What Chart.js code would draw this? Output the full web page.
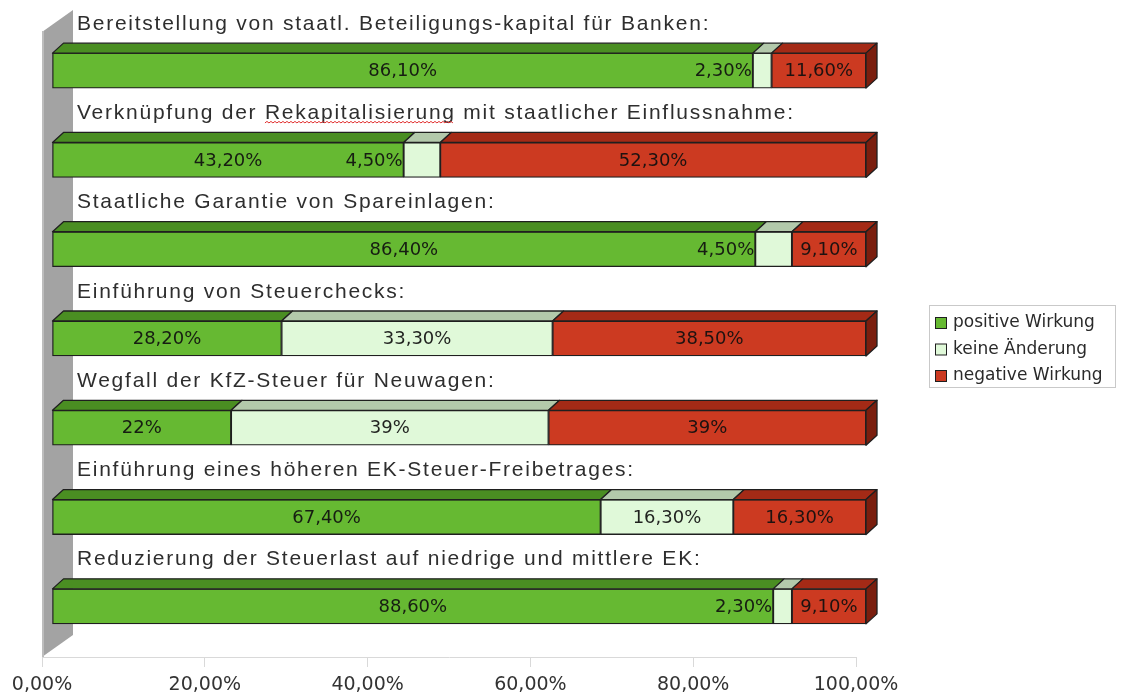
<!DOCTYPE html>
<html>
<head>
<meta charset="utf-8">
<script src="https://cdn.jsdelivr.net/npm/chart.js@4.4.1/dist/chart.umd.min.js"></script>
<style>
html,body{margin:0;padding:0;background:#fff;}
canvas{display:block;}
</style>
</head>
<body>
<canvas id="c" width="1128" height="695"></canvas>
<script>
// ---- data ----
const categories = [
  "Bereitstellung von staatl. Beteiligungs-kapital für Banken:",
  "Verknüpfung der Rekapitalisierung mit staatlicher Einflussnahme:",
  "Staatliche Garantie von Spareinlagen:",
  "Einführung von Steuerchecks:",
  "Wegfall der KfZ-Steuer für Neuwagen:",
  "Einführung eines höheren EK-Steuer-Freibetrages:",
  "Reduzierung der Steuerlast auf niedrige und mittlere EK:"
];
const seriesNames = ["positive Wirkung", "keine Änderung", "negative Wirkung"];
const positiveValues = [86.1, 43.2, 86.4, 28.2, 22, 67.4, 88.6];
const noChangeValues = [2.3, 4.5, 4.5, 33.3, 39, 16.3, 2.3];
const negativeValues = [11.6, 52.3, 9.1, 38.5, 39, 16.3, 9.1];
const labelDecimals = [2, 2, 2, 2, 0, 2, 2];
const tickValues = [0, 20, 40, 60, 80, 100];

// ---- style ----
const frontColors = ["#66b932", "#e0f9d9", "#cc3a21"];
const topColors = ["#4a8e22", "#b3c9ab", "#a42a16"];
const sideColors = ["#3d7a1a", "#9fb597", "#7a1e0e"];
const EDGE = "#1f1f1f";
const DX = 10, DY = -6;        // bar depth position
const BX = 11, BY = -10;       // bar depth extent
const WX = 31, WY = -22;       // wall depth

function fmt(v, d) {
  return v.toFixed(d).replace('.', ',') + '%';
}

const threeD = {
  id: 'threeD',
  beforeDatasetsDraw(chart) {
    const ctx = chart.ctx, a = chart.chartArea;
    // left wall
    ctx.save();
    ctx.beginPath();
    ctx.moveTo(a.left, a.top);
    ctx.lineTo(a.left + WX, a.top + WY);
    ctx.lineTo(a.left + WX, a.bottom + WY);
    ctx.lineTo(a.left, a.bottom);
    ctx.closePath();
    ctx.fillStyle = "#a3a3a3";
    ctx.fill();
    ctx.fillStyle = "#bdbdbd";
    ctx.fillRect(a.left, a.top - 1, 2, a.bottom - a.top + 1);
    ctx.restore();
    ctx.save();
    ctx.translate(DX, DY);
  },
  afterDatasetsDraw(chart) {
    const ctx = chart.ctx;
    const n = chart.data.datasets.length;
    ctx.lineWidth = 1.3;
    ctx.strokeStyle = EDGE;
    ctx.lineJoin = 'round';
    for (let d = 0; d < n; d++) {
      const meta = chart.getDatasetMeta(d);
      meta.data.forEach((el) => {
        const x0 = Math.min(el.x, el.base), x1 = Math.max(el.x, el.base);
        const top = el.y - el.height / 2, bot = el.y + el.height / 2;
        ctx.beginPath();
        ctx.moveTo(x0, top);
        ctx.lineTo(x0 + BX, top + BY);
        ctx.lineTo(x1 + BX, top + BY);
        ctx.lineTo(x1, top);
        ctx.closePath();
        ctx.fillStyle = topColors[d];
        ctx.fill();
        ctx.stroke();
        if (d === n - 1) {
          ctx.beginPath();
          ctx.moveTo(x1, top);
          ctx.lineTo(x1 + BX, top + BY);
          ctx.lineTo(x1 + BX, bot + BY);
          ctx.lineTo(x1, bot);
          ctx.closePath();
          ctx.fillStyle = sideColors[d];
          ctx.fill();
          ctx.stroke();
        }
      });
    }
    ctx.restore();

    // data labels
    ctx.save();
    ctx.font = '18px "DejaVu Sans"';
    ctx.fillStyle = 'rgba(15,15,15,0.92)';
    ctx.textBaseline = 'middle';
    for (let d = 0; d < n; d++) {
      const meta = chart.getDatasetMeta(d);
      const vals = chart.data.datasets[d].data;
      meta.data.forEach((el, i) => {
        const x0 = Math.min(el.x, el.base) + DX, x1 = Math.max(el.x, el.base) + DX;
        const cy = el.y + DY + 1;
        const t = fmt(vals[i], labelDecimals[i]);
        const w = ctx.measureText(t).width;
        if (w + 6 > x1 - x0) {
          ctx.textAlign = 'right';
          ctx.fillText(t, x0 - 1, cy);
        } else {
          ctx.textAlign = 'center';
          ctx.fillText(t, (x0 + x1) / 2, cy);
        }
      });
    }
    ctx.restore();

    // category titles
    ctx.save();
    ctx.font = '21px "Liberation Sans"';
    ctx.letterSpacing = '1.75px';
    ctx.fillStyle = '#2e2e2e';
    ctx.textAlign = 'left';
    ctx.textBaseline = 'alphabetic';
    const a = chart.chartArea;
    const meta0 = chart.getDatasetMeta(0);
    meta0.data.forEach((el, i) => {
      const y = el.y + DY - 41;
      const x = a.left + 35;
      ctx.fillText(chart.data.labels[i], x, y);
      if (i === 1) {
        // spell-check squiggle under "Rekapitalisierung"
        const pre = ctx.measureText("Verknüpfung der ").width;
        const wrd = ctx.measureText("Rekapitalisierung").width;
        ctx.beginPath();
        ctx.strokeStyle = '#e03030';
        ctx.lineWidth = 1;
        let sx = x + pre, ex = x + pre + wrd - 2, yy = y + 4;
        ctx.moveTo(sx, yy);
        let up = true;
        for (let px = sx + 2; px <= ex; px += 2) {
          ctx.lineTo(px, yy + (up ? -1.5 : 0));
          up = !up;
        }
        ctx.stroke();
      }
    });
    ctx.restore();

    // legend
    ctx.save();
    const lx = 929.5, ly = 305.5, lw = 186, lh = 82;
    ctx.strokeStyle = '#c9c9c9';
    ctx.lineWidth = 1;
    ctx.strokeRect(lx, ly, lw, lh);
    ctx.font = '17px "DejaVu Sans"';
    ctx.textBaseline = 'middle';
    ctx.textAlign = 'left';
    chart.data.datasets.forEach((ds, k) => {
      const cy = 323 + k * 26.5;
      ctx.fillStyle = ds.backgroundColor;
      ctx.fillRect(935.5, cy - 5.5, 11, 11);
      ctx.strokeStyle = EDGE;
      ctx.strokeRect(935.5, cy - 5.5, 11, 11);
      ctx.fillStyle = '#2a2a2a';
      ctx.fillText(ds.label, 953, cy);
    });
    ctx.restore();
  }
};

const datasets = [positiveValues, noChangeValues, negativeValues].map((vals, k) => ({
  label: seriesNames[k],
  data: vals,
  backgroundColor: frontColors[k],
  borderColor: EDGE,
  borderWidth: 1.3,
  borderSkipped: false,
  barThickness: 35,
  clip: false
}));

new Chart(document.getElementById('c'), {
  type: 'bar',
  data: { labels: categories, datasets },
  options: {
    indexAxis: 'y',
    responsive: false,
    animation: false,
    layout: { padding: { left: 42, right: 272, top: 32, bottom: 0 } },
    plugins: { legend: { display: false }, tooltip: { enabled: false } },
    scales: {
      x: {
        stacked: true,
        min: 0,
        max: 100,
        afterBuildTicks(s) { s.ticks = tickValues.map(v => ({ value: v })); },
        afterFit(s) { s.height = 38; },
        ticks: {
          callback: (v) => fmt(v, 2),
          font: { family: 'DejaVu Sans', size: 19 },
          color: '#333',
          padding: 7,
          maxRotation: 0
        },
        grid: { drawOnChartArea: false, drawTicks: true, tickLength: 10, color: '#d9d9d9' },
        border: { color: '#d9d9d9' }
      },
      y: { stacked: true, display: false }
    }
  },
  plugins: [threeD]
});
</script>
</body>
</html>
